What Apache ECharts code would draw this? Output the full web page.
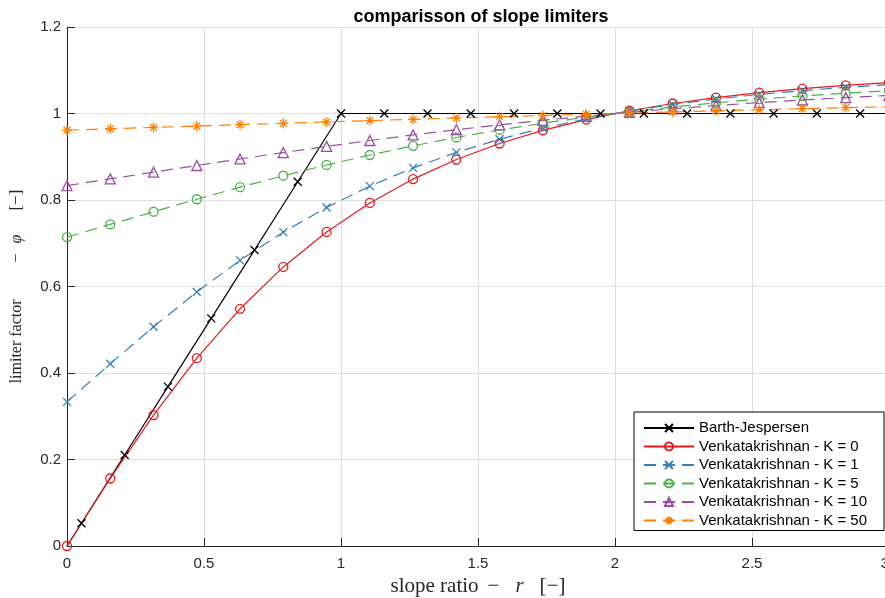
<!DOCTYPE html>
<html>
<head>
<meta charset="utf-8">
<script src="https://cdn.jsdelivr.net/npm/echarts@6/dist/echarts.min.js"></script>
<style>
html,body{margin:0;padding:0;background:#fff;}
#chart{width:885px;height:598px;}
</style>
</head>
<body>
<div id="chart"></div>
<script>
// slope ratio values at marker positions (Venkatakrishnan curves)
const rValues = [0, 0.157895, 0.315789, 0.473684, 0.631579, 0.789474, 0.947368, 1.105263, 1.263158, 1.421053,
  1.578947, 1.736842, 1.894737, 2.052632, 2.210526, 2.368421, 2.526316, 2.684211, 2.842105, 3.0];
const phiK0 = [0, 0.15609, 0.30275, 0.43429, 0.54845, 0.64529, 0.72622, 0.79321, 0.84835, 0.89358,
  0.93066, 0.96103, 0.98594, 1.00637, 1.02314, 1.03692, 1.04825, 1.05755, 1.06518, 1.07143];
const phiK1 = [0.33333, 0.42124, 0.50689, 0.58727, 0.66048, 0.72568, 0.78273, 0.83203, 0.87423, 0.91011,
  0.94046, 0.96606, 0.98759, 1.00568, 1.02085, 1.03356, 1.04420, 1.05308, 1.06050, 1.06667];
const phiK5 = [0.71429, 0.74354, 0.77288, 0.80173, 0.82960, 0.85611, 0.88099, 0.90407, 0.92526, 0.94455,
  0.96197, 0.97761, 0.99157, 1.00397, 1.01493, 1.02460, 1.03308, 1.04051, 1.04699, 1.05263];
const phiK10 = [0.83333, 0.84880, 0.86435, 0.87980, 0.89498, 0.90975, 0.92397, 0.93755, 0.95041, 0.96250,
  0.97380, 0.98429, 0.99398, 1.00288, 1.01102, 1.01844, 1.02517, 1.03126, 1.03674, 1.04167];
const phiK50 = [0.96154, 0.96470, 0.96787, 0.97104, 0.97420, 0.97734, 0.98045, 0.98353, 0.98657, 0.98956,
  0.99249, 0.99536, 0.99817, 1.00090, 1.00356, 1.00614, 1.00864, 1.01106, 1.01338, 1.01563];
// Barth-Jespersen (first and last points are line ends without markers)
const bjR = [0, 0.052632, 0.210526, 0.368421, 0.526316, 0.684211, 0.842105, 1.0, 1.157895, 1.315789, 1.473684,
  1.631579, 1.789474, 1.947368, 2.105263, 2.263158, 2.421053, 2.578947, 2.736842, 2.894737, 3.0];
const bjPhi = [0, 0.052632, 0.210526, 0.368421, 0.526316, 0.684211, 0.842105, 1, 1, 1, 1,
  1, 1, 1, 1, 1, 1, 1, 1, 1, 1];
const xTicks = [0, 0.5, 1, 1.5, 2, 2.5, 3];
const yTicks = [0, 0.2, 0.4, 0.6, 0.8, 1, 1.2];
const seriesNames = ['Barth-Jespersen', 'Venkatakrishnan - K = 0', 'Venkatakrishnan - K = 1',
  'Venkatakrishnan - K = 5', 'Venkatakrishnan - K = 10', 'Venkatakrishnan - K = 50'];

const X_PATH = 'path://M0,0L10,10M10,0L0,10';
const STAR_PATH = 'path://M5,0L5,10M0,5L10,5M1.6,1.6L8.4,8.4M8.4,1.6L1.6,8.4';
const DASH = [12, 7];

function zip(xs, ys) { return xs.map((x, i) => [x, ys[i]]); }

function mkSeries(name, data, color, symbol, size, dashed) {
  return {
    name: name, type: 'line', data: data,
    symbol: symbol, symbolSize: size, showSymbol: true,
    lineStyle: { color: color, width: 1.2, type: dashed ? DASH : 'solid' },
    itemStyle: { color: 'none', borderColor: color, borderWidth: 1.3 },
    emphasis: { disabled: true },
    animation: false
  };
}

const bjData = zip(bjR, bjPhi).map((p, i) =>
  (i === 0 || i === bjR.length - 1) ? { value: p, symbol: 'none' } : p);

const series = [
  mkSeries(seriesNames[0], bjData, '#000000', X_PATH, 8, false),
  mkSeries(seriesNames[1], zip(rValues, phiK0), '#e41a1c', 'circle', 9, false),
  mkSeries(seriesNames[2], zip(rValues, phiK1), '#377eb8', X_PATH, 8, true),
  mkSeries(seriesNames[3], zip(rValues, phiK5), '#4daf4a', 'circle', 9, true),
  mkSeries(seriesNames[4], zip(rValues, phiK10), '#984ea3', 'triangle', 10, true),
  mkSeries(seriesNames[5], zip(rValues, phiK50), '#ff7f00', STAR_PATH, 10, true)
];

const axisCol = '#262626';
const serif = { fontFamily: 'Liberation Serif', color: '#262626' };
const chart = echarts.init(document.getElementById('chart'), null, { renderer: 'canvas' });
chart.setOption({
  animation: false,
  backgroundColor: '#ffffff',
  title: {
    text: 'comparisson of slope limiters',
    left: 476, top: 3, textAlign: 'center',
    textStyle: { fontFamily: 'Liberation Sans', fontWeight: 'bold', fontSize: 18, color: '#000' }
  },
  grid: { left: 67, right: -4, top: 27, bottom: 52, containLabel: false, outerBoundsMode: 'none' },
  legend: {
    orient: 'vertical', left: 634, top: 412,
    data: seriesNames,
    itemWidth: 50, itemHeight: 10, itemGap: 2.5,
    padding: [8, 17, 2, 9],
    backgroundColor: '#ffffff', borderColor: '#000000', borderWidth: 1,
    textStyle: { fontFamily: 'Liberation Sans', fontSize: 15, lineHeight: 16, color: '#000' },
    selectedMode: false
  },
  xAxis: {
    type: 'value', min: xTicks[0], max: xTicks[xTicks.length - 1], interval: 0.5,
    name: '{n|slope ratio}{m|−}{i|r}{b|[−]}',
    nameLocation: 'middle', nameGap: 27,
    nameTextStyle: {
      rich: {
        n: Object.assign({ fontSize: 21 }, serif),
        m: Object.assign({ fontSize: 21, padding: [0, 16, 0, 9] }, serif),
        i: Object.assign({ fontSize: 21, fontStyle: 'italic' }, serif),
        b: Object.assign({ fontSize: 21, padding: [0, 0, 0, 16] }, serif)
      }
    },
    axisLine: { show: true, onZero: false, lineStyle: { color: axisCol, width: 1 } },
    axisTick: { show: true, inside: true, length: 8, lineStyle: { color: axisCol } },
    axisLabel: { fontFamily: 'Liberation Sans', fontSize: 15, color: axisCol, margin: 10,
      showMaxLabel: true, showMinLabel: true, hideOverlap: false, alignMaxLabel: 'right' },
    splitLine: { show: true, lineStyle: { color: '#dfdfdf', width: 1 } }
  },
  yAxis: {
    type: 'value', min: yTicks[0], max: yTicks[yTicks.length - 1], interval: 0.2,
    name: '{n|limiter factor}{m|−}{i|φ}{b|[−]}',
    nameLocation: 'middle', nameGap: 42, nameRotate: 90,
    nameTextStyle: {
      rich: {
        n: Object.assign({ fontSize: 16 }, serif),
        m: Object.assign({ fontSize: 16, padding: [0, 10, 0, 37] }, serif),
        i: Object.assign({ fontSize: 16, fontStyle: 'italic' }, serif),
        b: Object.assign({ fontSize: 17, padding: [0, 0, 0, 24] }, serif)
      }
    },
    axisLine: { show: true, onZero: false, lineStyle: { color: axisCol, width: 1 } },
    axisTick: { show: true, inside: true, length: 8, lineStyle: { color: axisCol } },
    axisLabel: { fontFamily: 'Liberation Sans', fontSize: 15, color: axisCol, margin: 6 },
    splitLine: { show: true, lineStyle: { color: '#dfdfdf', width: 1 } }
  },
  series: series
});
</script>
</body>
</html>
